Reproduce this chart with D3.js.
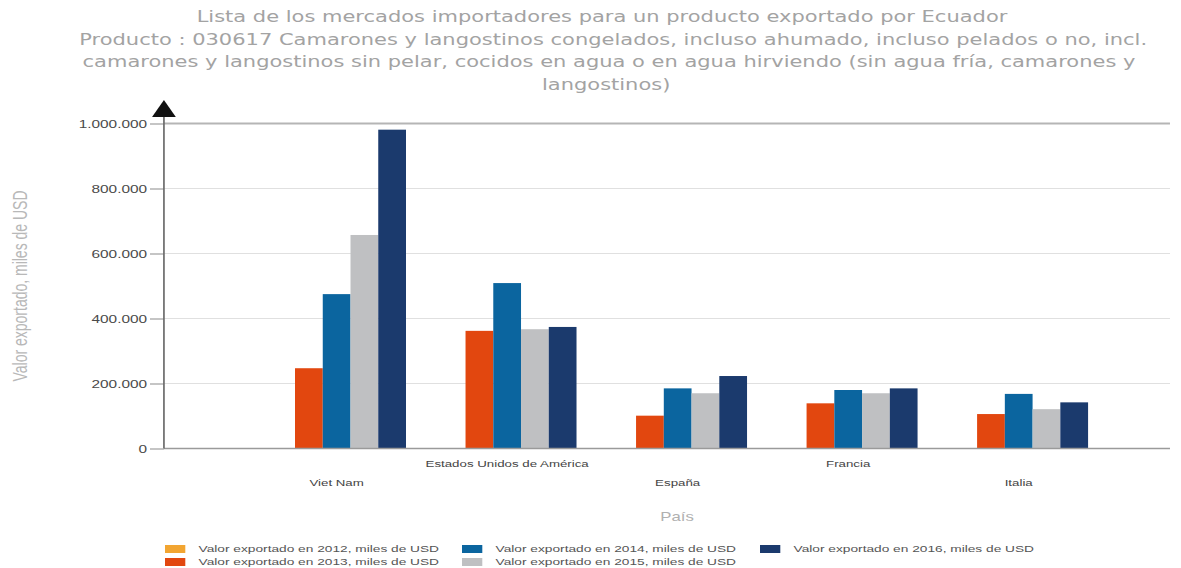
<!DOCTYPE html>
<html>
<head>
<meta charset="utf-8">
<script src="https://cdn.jsdelivr.net/npm/d3@7"></script>
<style>
  html, body { margin: 0; padding: 0; background: #ffffff; }
  svg { display: block; }
</style>
</head>
<body>
<svg id="chart" width="1181" height="568"></svg>
<script>
// ---- data ----
const categorias = ["Viet Nam", "Estados Unidos de América", "España", "Francia", "Italia"];
const nombresSeries = [
  "Valor exportado en 2012, miles de USD",
  "Valor exportado en 2013, miles de USD",
  "Valor exportado en 2014, miles de USD",
  "Valor exportado en 2015, miles de USD",
  "Valor exportado en 2016, miles de USD"
];
const valores2012 = [null, null, null, null, null];
const valores2013 = [247000, 362000, 101000, 139000, 106000];
const valores2014 = [475000, 509000, 185000, 180000, 168000];
const valores2015 = [657000, 367000, 170000, 170000, 121000];
const valores2016 = [981000, 374000, 223000, 185000, 142000];
const ticksY = [0, 200000, 400000, 600000, 800000, 1000000];
const coloresSeries = ["#f2a531", "#e2470f", "#0b659f", "#bfc0c2", "#1b3a6d"];

const tituloLineas = [
  "Lista de los mercados importadores para un producto exportado por Ecuador",
  "Producto : 030617 Camarones y langostinos congelados, incluso ahumado, incluso pelados o no, incl.",
  "camarones y langostinos sin pelar, cocidos en agua o en agua hirviendo (sin agua fría, camarones y",
  "langostinos)"
];
const tituloEjeY = "Valor exportado, miles de USD";
const tituloEjeX = "País";

// ---- layout (drawn in a narrower logical frame, stretched horizontally) ----
const SX = 1.4;
const svg = d3.select("#chart");
const root = svg.append("g").attr("transform", `scale(${SX},1)`);

const plotLeft = 117.1, plotRight = 835.7, plotTop = 123.5, plotBottom = 448.5;

const serieValores = [valores2012, valores2013, valores2014, valores2015, valores2016];
const filas = categorias.map((c, i) => ({
  cat: c,
  vals: nombresSeries.map((s, k) => ({ serie: s, k, v: serieValores[k][i] }))
}));

const x0 = d3.scaleBand()
  .domain(categorias)
  .range([179.55, 788.55])
  .paddingInner(0.1864)
  .paddingOuter(0.0932);

const x1 = d3.scaleBand()
  .domain(nombresSeries)
  .range([0, x0.bandwidth()]);

const y = d3.scaleLinear()
  .domain([0, 1000000])
  .range([plotBottom, plotTop]);

const fmt = d3.formatLocale({ decimal: ",", thousands: ".", grouping: [3], currency: ["", ""] }).format(",d");

// ---- title ----
const titulo = root.append("g")
  .attr("font-family", "'DejaVu Sans', Verdana, sans-serif")
  .attr("font-size", 15)
  .attr("fill", "#a3a3a3")
  .attr("text-anchor", "middle");
const tituloY = [22.5, 45, 67.5, 90];
const tituloX = [430, 438, 435, 433];
tituloLineas.forEach((t, i) => {
  titulo.append("text").attr("x", tituloX[i]).attr("y", tituloY[i]).text(t);
});

// ---- grid ----
const grid = root.append("g");
grid.selectAll("line")
  .data(ticksY.filter(d => d > 0))
  .join("line")
  .attr("x1", plotLeft).attr("x2", plotRight)
  .attr("y1", d => y(d)).attr("y2", d => y(d))
  .attr("stroke", d => d === 1000000 ? "#b5b5b5" : "#e0e0e0")
  .attr("stroke-width", d => d === 1000000 ? 2 : 1);

// ---- bars ----
root.append("g")
  .selectAll("g")
  .data(filas)
  .join("g")
  .attr("transform", d => `translate(${x0(d.cat)},0)`)
  .selectAll("rect")
  .data(d => d.vals.filter(e => e.v != null))
  .join("rect")
  .attr("x", d => x1(d.serie))
  .attr("width", x1.bandwidth())
  .attr("y", d => y(d.v))
  .attr("height", d => y(0) - y(d.v))
  .attr("fill", d => coloresSeries[d.k]);

// ---- x axis baseline ----
root.append("line")
  .attr("x1", plotLeft).attr("x2", plotRight)
  .attr("y1", y(0)).attr("y2", y(0))
  .attr("stroke", "#9a9a9a").attr("stroke-width", 1.6);

// ---- category labels (staggered) ----
root.append("g")
  .attr("font-family", "'Liberation Sans', Arial, sans-serif")
  .attr("font-size", 9.5)
  .attr("fill", "#444444")
  .attr("text-anchor", "middle")
  .selectAll("text")
  .data(categorias)
  .join("text")
  .attr("x", d => x0(d) + x0.bandwidth() / 2)
  .attr("y", (d, i) => i % 2 === 0 ? 486.5 : 467.5)
  .text(d => d);

// ---- y axis ----
const yAxis = d3.axisLeft(y)
  .tickValues(ticksY)
  .tickFormat(fmt)
  .tickSize(10)
  .tickPadding(2);
const gy = root.append("g")
  .attr("transform", `translate(${plotLeft},0)`)
  .call(yAxis);
gy.select(".domain").remove();
gy.selectAll(".tick line").attr("stroke", "#8a8a8a");
gy.selectAll(".tick text")
  .attr("font-family", "'Liberation Sans', Arial, sans-serif")
  .attr("font-size", 11)
  .attr("fill", "#4a4a4a");

root.append("line")
  .attr("x1", plotLeft).attr("x2", plotLeft)
  .attr("y1", plotBottom).attr("y2", 114)
  .attr("stroke", "#6a6a6a").attr("stroke-width", 1.2);

// arrow head on the value axis
root.append("path")
  .attr("d", `M${plotLeft},100 L${plotLeft - 8.5},117 L${plotLeft + 8.5},117 Z`)
  .attr("fill", "#111");

// ---- axis titles ----
root.append("text")
  .attr("transform", `translate(${22 / SX},286) scale(${1 / SX},1) rotate(-90) scale(1,${SX})`)
  .attr("text-anchor", "middle")
  .attr("dominant-baseline", "middle")
  .attr("font-family", "'Liberation Sans', Arial, sans-serif")
  .attr("font-size", 14)
  .attr("fill", "#b8b8b8")
  .text(tituloEjeY);

root.append("text")
  .attr("x", 677 / SX).attr("y", 521)
  .attr("text-anchor", "middle")
  .attr("font-family", "'Liberation Sans', Arial, sans-serif")
  .attr("font-size", 12)
  .attr("fill", "#b0b0b0")
  .text(tituloEjeX);

// ---- legend ----
const legendCols = [165, 462, 760].map(v => v / SX);
const legendRows = [549, 562];
const legend = root.append("g")
  .attr("font-family", "'Liberation Sans', Arial, sans-serif")
  .attr("font-size", 9.8)
  .attr("fill", "#555555");
const li = legend.selectAll("g")
  .data(nombresSeries)
  .join("g")
  .attr("transform", (d, i) => `translate(${legendCols[Math.floor(i / 2)]},${legendRows[i % 2]})`);
li.append("rect")
  .attr("x", 0).attr("y", -4)
  .attr("width", 14.5).attr("height", 8)
  .attr("fill", (d, i) => coloresSeries[i]);
li.append("text")
  .attr("x", 24)
  .attr("y", 0)
  .attr("dominant-baseline", "middle")
  .text(d => d);
</script>
</body>
</html>
